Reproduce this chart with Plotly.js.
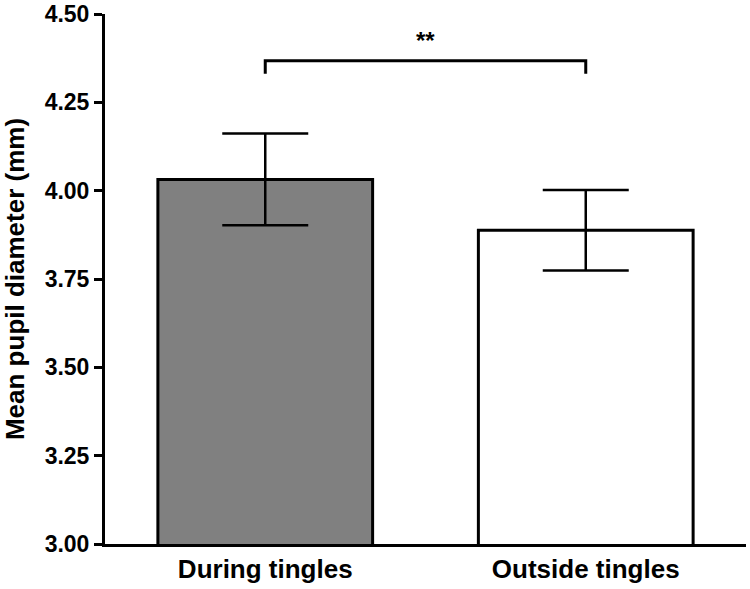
<!DOCTYPE html>
<html>
<head>
<meta charset="utf-8">
<script src="https://cdn.plot.ly/plotly-3.0.1.min.js"></script>
<style>html,body{margin:0;padding:0;background:#fff;}#chart{width:750px;height:589px;}</style>
</head>
<body>
<div id="chart"></div>
<script>
const categories = ["During tingles", "Outside tingles"];
const meanValues = [4.032, 3.888];
const errorValues = [0.130, 0.114];
const barColors = ["#808080", "#ffffff"];
const yTickValues = [3.00, 3.25, 3.50, 3.75, 4.00, 4.25, 4.50];
const sigBracketTop = 4.368;
const sigBracketBottom = 4.331;
const sigLabel = "**";
const sigLabelY = 4.425;

const font = "Liberation Sans, Arial, sans-serif";

const barTrace = {
  type: "bar",
  x: categories,
  y: meanValues,
  base: 0,
  width: 0.67,
  marker: { color: barColors, line: { color: "#000", width: 3 } },
  error_y: { type: "data", array: errorValues, visible: true, color: "#000", thickness: 2.5, width: 43 },
  hoverinfo: "none"
};

const bracketTrace = {
  type: "scatter",
  mode: "lines",
  x: [categories[0], categories[0], categories[1], categories[1]],
  y: [sigBracketBottom, sigBracketTop, sigBracketTop, sigBracketBottom],
  line: { color: "#000", width: 3 },
  hoverinfo: "none",
  cliponaxis: false
};

const layout = {
  width: 750, height: 589,
  margin: { l: 105, r: 4, t: 14, b: 45 },
  paper_bgcolor: "#fff", plot_bgcolor: "#fff",
  showlegend: false,
  font: { family: font, color: "#000" },
  xaxis: {
    type: "category",
    range: [-0.5, 1.5],
    showline: true, linecolor: "#000", linewidth: 3,
    ticks: "", showgrid: false, zeroline: false,
    tickfont: { family: font, size: 26, weight: "bold" }
  },
  yaxis: {
    range: [3, 4.5003],
    tickvals: yTickValues,
    tickformat: ".2f",
    showline: true, linecolor: "#000", linewidth: 3,
    ticks: "outside", ticklen: 8, tickwidth: 3, tickcolor: "#000",
    showgrid: false, zeroline: false,
    ticklabeloverflow: "allow",
    tickfont: { family: font, size: 23, weight: "bold" },
    title: { text: "Mean pupil diameter (mm)", font: { family: font, size: 26, weight: "bold" }, standoff: 15 }
  },
  annotations: [{
    x: 0.5, xref: "x", y: sigLabelY, yref: "y",
    text: sigLabel, showarrow: false,
    font: { family: font, size: 24, weight: "bold" }
  }]
};

Plotly.newPlot("chart", [barTrace, bracketTrace], layout, { staticPlot: true });
</script>
</body>
</html>
